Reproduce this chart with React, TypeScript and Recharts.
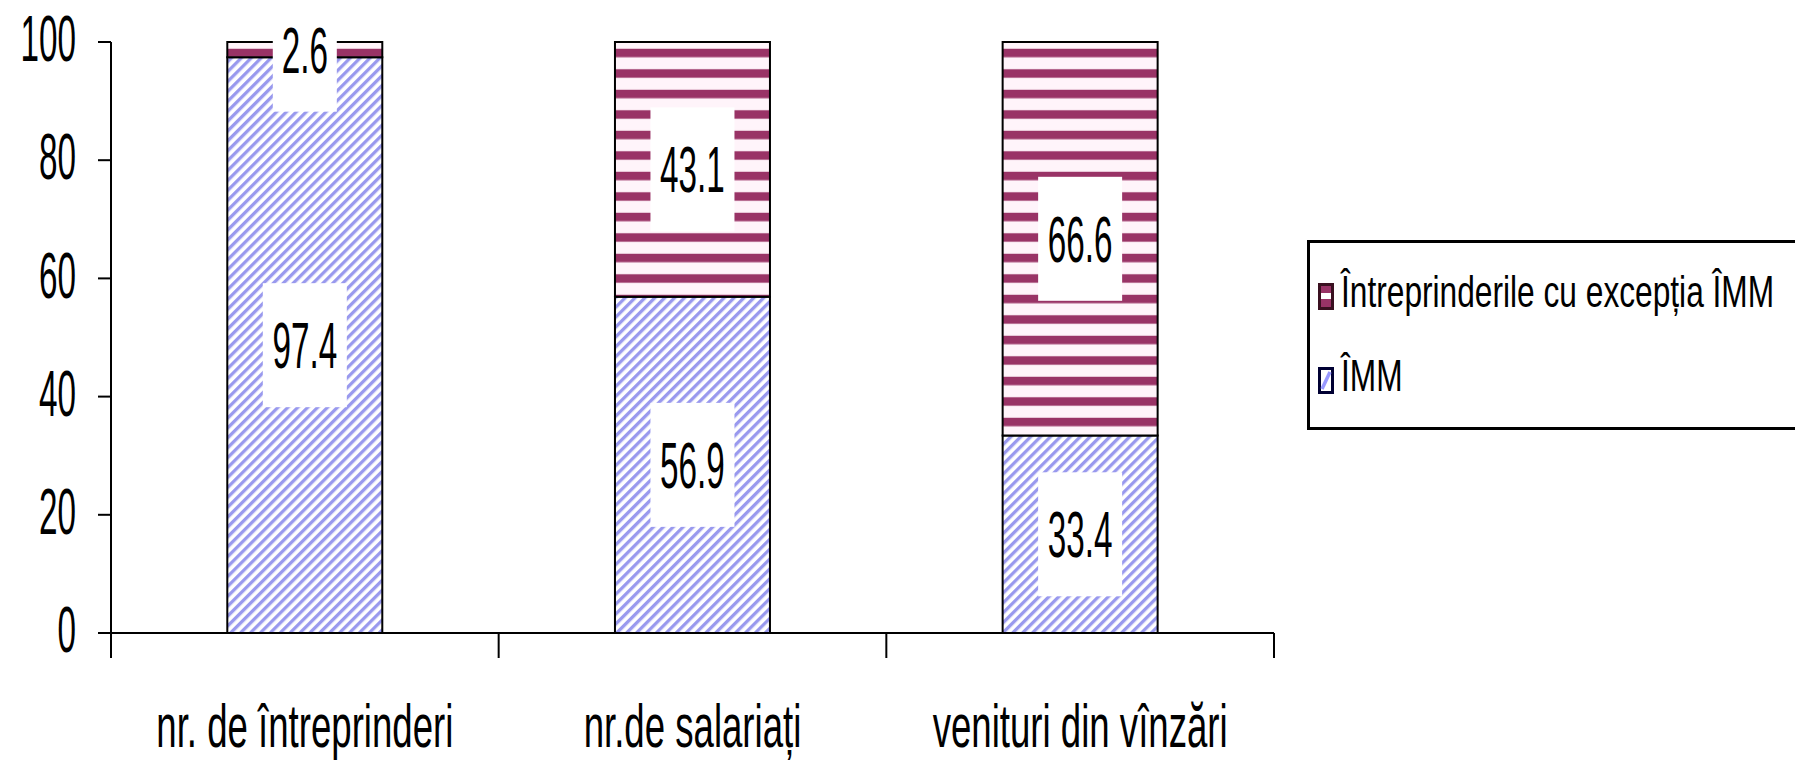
import { Bar, BarChart, LabelList, Legend, XAxis, YAxis } from "recharts";

const CATEGORIES = ["nr. de întreprinderi", "nr.de salariați", "venituri din vînzări"];
const IMM_VALUES = [97.4, 56.9, 33.4];
const OTHER_VALUES = [2.6, 43.1, 66.6];
const Y_TICKS = [0, 20, 40, 60, 80, 100];
const OTHER_NAME = "Întreprinderile cu excepția ÎMM";
const IMM_NAME = "ÎMM";

const data = CATEGORIES.map((name, i) => ({ name, imm: IMM_VALUES[i], other: OTHER_VALUES[i] }));

const FONT = '"Liberation Sans", Arial, sans-serif';
const W = 1795;
const H = 762;
const MARGIN = { top: 42, right: 521, bottom: 0, left: 0 };
const Y_AXIS_W = 111;
const X_AXIS_H = 129;
const HALF_BAND = (W - MARGIN.right - Y_AXIS_W) / CATEGORIES.length / 2;

function YTick({ x, y, payload }: any) {
  return (
    <g transform={`translate(${x},${y})`}>
      <text transform="scale(0.52,1)" textAnchor="end" dy="0.3em" fontSize={64} fontFamily={FONT} fill="#000">
        {payload.value}
      </text>
    </g>
  );
}

function XTick({ x, y, payload, index }: any) {
  const half = payload?.offset || HALF_BAND;
  const last = index === CATEGORIES.length - 1;
  return (
    <g>
      <line x1={x - half} x2={x - half} y1={y} y2={y + 25} stroke="#000" strokeWidth={2} />
      {last && <line x1={x + half} x2={x + half} y1={y} y2={y + 25} stroke="#000" strokeWidth={2} />}
      <g transform={`translate(${x},${y + 114})`}>
        <text transform="scale(0.6,1)" textAnchor="middle" fontSize={61} fontFamily={FONT} fill="#000">
          {payload.value}
        </text>
      </g>
    </g>
  );
}

function SegmentLabel({ x, y, width, height, value }: any) {
  const cx = x + width / 2;
  const cy = y + height / 2;
  const w = value < 10 ? 64 : 84;
  return (
    <g transform={`translate(${cx},${cy})`}>
      <rect x={-w / 2} y={-62} width={w} height={124} fill="#fff" />
      <text transform="scale(0.52,1)" textAnchor="middle" dy="0.36em" fontSize={64} fontFamily={FONT} fill="#000">
        {value}
      </text>
    </g>
  );
}

function LegendBox() {
  const rows = [
    { name: OTHER_NAME, fill: "#993366", stripe: true, center: 56 },
    { name: IMM_NAME, fill: "#9999ff", stripe: false, center: 140 },
  ];
  return (
    <div
      style={{
        position: "relative",
        width: 520,
        height: 190,
        boxSizing: "border-box",
        border: "3px solid #000",
        background: "#fff",
        fontFamily: FONT,
      }}
    >
      {rows.map((r) => (
        <div key={r.name}>
          <svg width={16} height={27} style={{ position: "absolute", left: 8, top: r.center - 3 - 13 }}>
            {r.stripe ? (
              <>
                <rect x={1.5} y={1.5} width={13} height={24} fill={r.fill} stroke="#3a1020" strokeWidth={3} />
                <rect x={3} y={10} width={10} height={6} fill="#fff" />
              </>
            ) : (
              <>
                <rect x={1.5} y={1.5} width={13} height={24} fill="#fff" stroke="#000033" strokeWidth={3} />
                <line x1={4} y1={22} x2={12} y2={5} stroke={r.fill} strokeWidth={3.5} />
              </>
            )}
          </svg>
          <span
            style={{
              position: "absolute",
              left: 31,
              top: r.center - 3,
              transform: "translateY(-58%) scaleX(0.72)",
              transformOrigin: "left center",
              fontSize: 44,
              lineHeight: 1,
              whiteSpace: "nowrap",
              color: "#000",
            }}
          >
            {r.name}
          </span>
        </div>
      ))}
    </div>
  );
}

export default function App() {
  return (
    <div style={{ position: "absolute", left: 0, top: 0, width: W, height: H, overflow: "hidden", background: "#fff" }}>
      <BarChart width={W} height={H} data={data} margin={MARGIN} barCategoryGap="30%">
        <defs>
          <pattern id="hatch" patternUnits="userSpaceOnUse" width={7} height={7} patternTransform="rotate(45)">
            <rect width={7} height={7} fill="#fff" />
            <rect width={3.3} height={7} fill="#9999ee" />
          </pattern>
          <pattern id="stripes" patternUnits="userSpaceOnUse" width={10} height={20.5}>
            <rect width={10} height={20.5} fill="#fff4fa" />
            <rect y={7.75} width={10} height={8.5} fill="#993366" />
          </pattern>
        </defs>
        <XAxis
          dataKey="name"
          height={X_AXIS_H}
          axisLine={{ stroke: "#000", strokeWidth: 2 }}
          tickLine={false}
          tickSize={0}
          tickMargin={0}
          tick={<XTick />}
          interval={0}
        />
        <YAxis
          width={Y_AXIS_W}
          domain={[0, 100]}
          ticks={Y_TICKS}
          axisLine={{ stroke: "#000", strokeWidth: 2 }}
          tickLine={{ stroke: "#000", strokeWidth: 2 }}
          tickSize={13}
          tickMargin={22}
          tick={<YTick />}
        />
        <Legend
          layout="vertical"
          align="center"
          verticalAlign="middle"
          wrapperStyle={{ left: 1307, top: 240, width: 520 }}
          content={<LegendBox />}
        />
        <Bar dataKey="imm" name={IMM_NAME} stackId="s" fill="url(#hatch)" stroke="#000" strokeWidth={2} isAnimationActive={false}>
          <LabelList dataKey="imm" content={<SegmentLabel />} />
        </Bar>
        <Bar dataKey="other" name={OTHER_NAME} stackId="s" fill="url(#stripes)" stroke="#000" strokeWidth={2} isAnimationActive={false}>
          <LabelList dataKey="other" content={<SegmentLabel />} />
        </Bar>
      </BarChart>
    </div>
  );
}
